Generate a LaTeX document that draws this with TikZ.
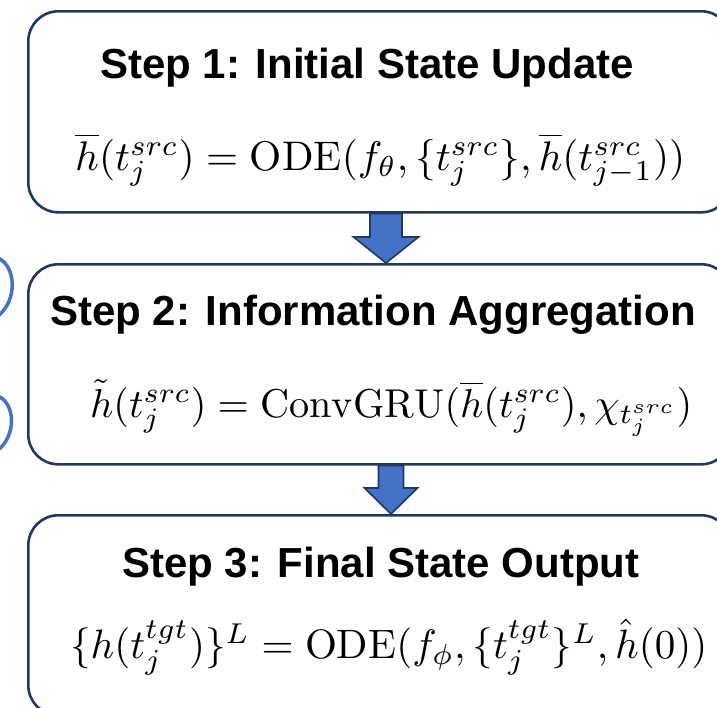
\documentclass[tikz,border=0pt]{standalone}
\usepackage{amsmath}
\usepackage{graphicx}
\usepackage{fontspec}
\usetikzlibrary{calc}
\newfontfamily\titlefont{Liberation Sans}
\definecolor{boxnavy}{HTML}{1F3864}
\definecolor{arrowblue}{HTML}{4472C4}

% block arrow between two stacked boxes:
% #1 upper node, #2 lower node, #3 centre x, #4 shaft half width,
% #5 head half width, #6 head length
\newcommand\flowarrow[6]{%
  \draw[arrowshape] let \p1=(#1.south), \p2=(#2.north) in
    (#3pt-#4pt,\y1) -- (#3pt+#4pt,\y1) -- (#3pt+#4pt,\y2+#6pt)
    -- (#3pt+#5pt,\y2+#6pt) -- (#3pt,\y2) -- (#3pt-#5pt,\y2+#6pt)
    -- (#3pt-#4pt,\y2+#6pt) -- cycle;}

\begin{document}
\begin{tikzpicture}[x=1pt,y=-1pt,
  stepbox/.style={draw=boxnavy, line width=2.6pt, rounded corners=30pt,
    anchor=north west, minimum width=703pt, inner sep=0pt},
  steptitle/.style={anchor=base west, inner sep=0pt,
    font=\titlefont\bfseries\fontsize{42}{50}\selectfont},
  stepeq/.style={anchor=base west, inner sep=0pt},
  arrowshape/.style={fill=arrowblue, draw=boxnavy, line width=1.6pt, line join=miter},
  sidearc/.style={draw=arrowblue, line width=3.5pt, line cap=round}]
\useasboundingbox (0,0) rectangle (717,707);
\clip (0,0) rectangle (717,707);
\fill[white] (0,0) rectangle (717,707);

% the three stages
\node[stepbox, minimum height=201pt] (s1) at (27,10) {};
\node[stepbox, minimum height=200pt] (s2) at (27,263) {};
\node[stepbox, minimum height=200pt] (s3) at (27,514) {};

% stage titles
\node[steptitle] (t1) at (100,78) {Step 1: Initial State Update};
\node[steptitle] (t2) at (50,325) {Step 2: Information Aggregation};
\node[steptitle] (t3) at (122,577) {Step 3: Final State Output};

% stage equations
\node[stepeq] (e1) at (75,170)
  {\resizebox{610pt}{!}{$\overline{h}(t_j^{src}) = \mathrm{ODE}(f_\theta, \{t_j^{src}\}, \overline{h}(t_{j-1}^{src}))$}};
\node[stepeq] (e2) at (90,417)
  {\resizebox{602pt}{!}{$\tilde{h}(t_j^{src}) = \mathrm{ConvGRU}(\overline{h}(t_j^{src}), \chi_{t_j^{src}})$}};
\node[stepeq] (e3) at (70,658)
  {\resizebox{637pt}{!}{$\{h(t_j^{tgt})\}^L = \mathrm{ODE}(f_\phi, \{t_j^{tgt}\}^L, \hat{h}(0))$}};

% flow between stages
\flowarrow{s1}{s2}{386}{16}{32.5}{26}
\flowarrow{s2}{s3}{391}{12.5}{26.5}{26}

% partial strokes at the left margin
\draw[sidearc] (-2,258) .. controls (16,266) and (18,300) .. (-2,316);
\draw[sidearc] (-2,396) .. controls (16,404) and (16,436) .. (-2,450);
\end{tikzpicture}
\end{document}
